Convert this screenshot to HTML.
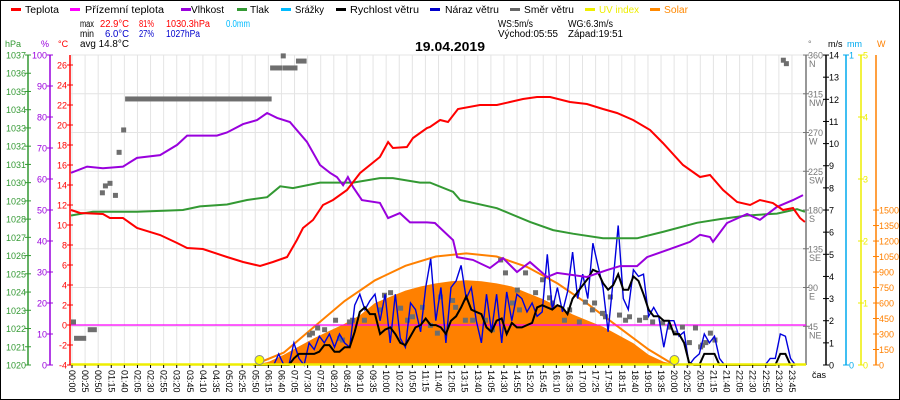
<!DOCTYPE html>
<html><head><meta charset="utf-8"><style>
html,body{margin:0;padding:0;background:#fff}
svg{display:block;font-family:"Liberation Sans","DejaVu Sans",sans-serif}
</style></head><body>
<svg id="chart" width="900" height="400" viewBox="0 0 900 400" xmlns="http://www.w3.org/2000/svg">
<rect x="0.5" y="0.5" width="899" height="399" fill="#fff" stroke="#000"/>
<g id="grid"></g>
<g id="legend" font-size="10">
  <g><rect x="11" y="8" width="10" height="3" fill="#f00"/><text x="25" y="13" textLength="34" lengthAdjust="spacingAndGlyphs">Teplota</text></g>
  <g><rect x="70" y="8" width="10" height="3" fill="#f0f"/><text x="85" y="13" textLength="79" lengthAdjust="spacingAndGlyphs">Přízemní teplota</text></g>
  <g><rect x="181" y="8" width="10" height="3" fill="#90d"/><text x="191" y="13" textLength="33" lengthAdjust="spacingAndGlyphs">Vlhkost</text></g>
  <g><rect x="237" y="8" width="10" height="3" fill="#393"/><text x="250" y="13" textLength="19" lengthAdjust="spacingAndGlyphs">Tlak</text></g>
  <g><rect x="281" y="8" width="10" height="3" fill="#0bf"/><text x="295" y="13" textLength="29" lengthAdjust="spacingAndGlyphs">Srážky</text></g>
  <g><rect x="336" y="8" width="10" height="3" fill="#000"/><text x="350" y="13" textLength="69" lengthAdjust="spacingAndGlyphs">Rychlost větru</text></g>
  <g><rect x="430" y="8" width="10" height="3" fill="#00c"/><text x="445" y="13" textLength="54" lengthAdjust="spacingAndGlyphs">Náraz větru</text></g>
  <g><rect x="510" y="8" width="10" height="3" fill="#666"/><text x="524" y="13" textLength="50" lengthAdjust="spacingAndGlyphs">Směr větru</text></g>
  <g><rect x="585" y="8" width="10" height="3" fill="#ee0"/><text x="599" y="13" fill="#ee0" textLength="40" lengthAdjust="spacingAndGlyphs">UV index</text></g>
  <g><rect x="650" y="8" width="10" height="3" fill="#f80"/><text x="664" y="13" fill="#f80" textLength="24" lengthAdjust="spacingAndGlyphs">Solar</text></g>
</g>
<g font-size="10">
  <text x="80" y="27" textLength="14" lengthAdjust="spacingAndGlyphs">max</text><text x="100" y="27" fill="#f00" textLength="29" lengthAdjust="spacingAndGlyphs">22.9°C</text><text x="139" y="27" fill="#f00" textLength="15" lengthAdjust="spacingAndGlyphs">81%</text><text x="166" y="27" fill="#f00" textLength="44" lengthAdjust="spacingAndGlyphs">1030.3hPa</text><text x="226" y="27" fill="#0bf" textLength="24" lengthAdjust="spacingAndGlyphs">0.0mm</text>
  <text x="80" y="37" textLength="14" lengthAdjust="spacingAndGlyphs">min</text><text x="105" y="37" fill="#00c" textLength="24" lengthAdjust="spacingAndGlyphs">6.0°C</text><text x="139" y="37" fill="#00c" textLength="15" lengthAdjust="spacingAndGlyphs">27%</text><text x="166" y="37" fill="#00c" textLength="34" lengthAdjust="spacingAndGlyphs">1027hPa</text>
  <text x="80" y="47" textLength="49" lengthAdjust="spacingAndGlyphs">avg 14.8°C</text>
  <text x="498" y="27" textLength="35" lengthAdjust="spacingAndGlyphs">WS:5m/s</text><text x="568" y="27" textLength="45" lengthAdjust="spacingAndGlyphs">WG:6.3m/s</text>
  <text x="498" y="37" textLength="60" lengthAdjust="spacingAndGlyphs">Východ:05:55</text><text x="568" y="37" textLength="55" lengthAdjust="spacingAndGlyphs">Západ:19:51</text>
</g>
<text x="415" y="51" font-size="13" font-weight="bold" textLength="70" lengthAdjust="spacingAndGlyphs">19.04.2019</text>
<g id="axes"></g>
<g id="series"></g>
<g id="xlabels"></g>
<text x="812" y="378" font-size="9">čas</text>
</svg>
<script>
const tempT=[0,0.30,1.05,1.28,1.71,2.17,2.93,3.49,3.82,4.34,5.13,5.66,6.22,6.64,7.11,7.43,7.63,7.96,8.29,8.62,9.08,9.51,10.16,10.43,10.59,11.05,11.25,11.71,11.81,12.14,12.4,12.73,13.45,14.01,14.44,14.87,15.33,15.76,16.41,16.97,17.5,17.96,18.49,19.05,19.47,20.13,20.69,21.02,21.45,21.91,22.34,22.66,23.09,23.42,23.75,23.98,24.14];
const tempV=[11.5,11.2,11.1,10.7,10.7,9.7,9.0,8.2,7.7,7.6,6.8,6.3,5.9,6.3,6.8,8.5,9.7,10.5,12,12.5,13.5,15.2,16.8,18.3,17.7,17.8,18.7,19.7,19.8,20.5,20.3,21.6,22,22,22.3,22.6,22.8,22.8,22.3,22.1,21.6,21.2,20.5,19.5,18.2,16,14.8,15,13.5,12.3,12,12.5,12.2,11.5,11.7,10.7,10.3];
const humT=[0,0.53,1.05,1.71,2.17,2.93,3.49,3.82,4.8,5.13,5.66,6.12,6.45,6.78,7.2,7.76,8.19,8.52,8.75,8.95,9.11,9.28,9.57,10.16,10.43,10.82,11.15,11.71,11.97,12.57,12.7,13.22,13.78,14.21,14.67,15.1,15.66,15.99,16.97,17.63,18.06,18.62,18.95,19.7,20.36,20.69,21.02,21.12,21.58,22.24,22.66,23.22,23.75,24.08];
const humV=[62,64,63.5,64,66.8,67.7,71,74,74,75,77.7,79,81.3,79.7,78.4,72,64.5,62,60.6,58,60.6,57.4,53.2,52.3,47.4,49,46,46,45.8,40.3,34.8,33.9,31.3,34.5,30,33.2,28.4,29.7,28.4,30.6,31.9,31.9,34.8,37.4,39.7,42,41.3,39.7,45.8,48.7,46.8,51,53.2,54.8];
const presT=[0,0.72,2.17,3.68,4.24,5.13,5.79,6.45,6.88,7.3,8.19,9.28,10.16,10.59,11.48,11.81,12.57,12.8,14.01,15.1,15.86,16.51,17.5,18.62,19.47,20.59,21.35,22.24,23.22,23.88,24.14];
const presV=[1028.2,1028.4,1028.4,1028.5,1028.7,1028.8,1029.05,1029.2,1029.8,1029.7,1030.0,1030.0,1030.25,1030.25,1030.0,1030.0,1029.5,1029.05,1028.6,1027.85,1027.4,1027.2,1026.95,1026.95,1027.3,1027.8,1028.0,1028.2,1028.3,1028.55,1028.4];
const windStart=6, windStep=1/6;
const speedV=[0,0,0,0,0,0,0,0,0.3,0.5,0.5,0.5,0.5,0.6,0.9,0.9,0.6,0.6,0.8,0.8,1.5,2.4,2.6,2.3,2.3,1.4,1.6,1.7,1.4,1.0,0.9,1.3,1.7,1.8,2.1,1.8,1.8,1.7,1.4,2.0,2.2,2.6,3.1,2.5,2.4,2.3,1.7,1.5,2.0,2.1,1.4,1.9,1.7,1.7,1.8,1.9,2.6,2.7,2.6,2.5,2.7,2.6,2.3,3.0,3.3,3.6,3.9,4.3,4.2,3.7,3.4,3.6,4.1,3.4,3.4,4.0,3.8,3.2,2.5,2.2,2.2,2.0,2.0,1.4,1.4,1.0,0.1,0,0,0.5,0.5,0.5,0,0,0,0,0,0,0,0,0,0,0,0,0.5,0.5,0,0];
const gustV=[0,0,0,0,0,0.5,0,0,1.0,0.3,0,1.0,0.7,1.3,1.0,1.4,0.8,1.4,1.0,0.8,2.7,3.2,2.5,2.9,3.2,2.0,3.2,1.0,3.2,1.2,0.8,2.8,2.5,1.5,3.5,4.8,2.0,3.5,1.0,3.5,3.8,4.5,3.0,3.5,2.0,1.0,3.2,1.5,3.2,1.0,3.3,2.0,3.2,3.0,2.4,2.8,2.2,2.4,5.0,2.5,3.5,2.4,3.3,5.1,3.0,4.1,3.0,5.5,4.5,3.5,1.5,3.8,6.3,3.0,2.5,4.3,4.0,4.1,2.2,2.6,2.2,0.8,2.0,2.0,1.3,1.5,0,0.3,0.5,1.4,1.0,1.3,0.3,0,0,0,0,0,0,0,0,0,0.3,0.3,1.4,1.3,0.3,0];
const solarT=[6,6.5,7,7.5,8,8.5,9,9.5,10,10.5,11,11.5,12,12.5,13,13.5,14,14.5,15,15.5,16,16.5,17,17.5,18,18.5,19,19.5,20];
const solarV=[0,30,100,180,260,330,400,480,600,660,720,760,790,810,820,810,790,760,700,640,570,490,430,370,290,210,100,30,0];
const solarMaxT=[6,7,8,9,10,11,12,13,14,15,16,17,18,19,19.85];
const solarMaxV=[0,120,370,620,820,960,1050,1080,1050,950,790,590,370,150,0];
const dirStart=[0,0.1,0.55,0.95,1.05,1.2,1.38,1.5,1.65,1.78,6.55,6.96,6.9,7.4,7.76,7.86,8.03,8.26,8.62,8.75,8.85,9.08,9.18,9.57,10.07,10.23,10.43,10.76,10.99,11.15,11.48,11.74,11.97,12.07,12.47,12.57,12.89,13.13,13.55,13.78,14.05,14.21,14.44,14.6,14.67,14.87,15.2,15.43,15.66,15.76,16.15,16.32,16.64,16.84,17.07,17.14,17.4,17.5,17.66,17.96,18.16,18.29,18.62,18.82,19.05,19.38,19.61,19.8,20.03,20.26,20.46,20.63,20.69,20.8,20.95,21.1,23.35,23.45];
const dirEnd=[0.05,0.5,0.85,1.0,1.1,1.3,1.42,1.55,1.72,6.6,6.95,7.45,7.0,7.75];
const dirV=[50,31,41,200,208,211,197,247,273,309,345,345,359,353,35,37,43,41,52,31,29,50,52,52,64,81,84,66,52,56,67,46,37,79,75,67,52,52,52,41,122,107,72,87,64,107,84,99,78,72,52,64,50,73,64,72,60,56,79,58,52,56,52,55,50,49,44,37,44,26,43,21,23,26,37,29,354,350];
const tempTicks=[-4,-2,0,2,4,6,8,10,12,14,16,18,20,22,24,26];
const humTicks=[0,10,20,30,40,50,60,70,80,90,100];
const presTicks=[1020,1021,1022,1023,1024,1025,1026,1027,1028,1029,1030,1031,1032,1033,1034,1035,1036,1037];
const dirTicks=[45,90,135,180,225,270,315,360];
const dirNames=["NE","E","SE","S","SW","W","NW","N"];
const speedTicks=[0,1,2,3,4,5,6,7,8,9,10,11,12,13,14];
const uvTicks=[0,1,2,3,4,5];
const wTicks=[0,150,300,450,600,750,900,1050,1200,1350,1500];
const timeLabels=["00:00","00:25","00:50","01:15","01:40","02:05","02:30","02:55","03:20","03:45","04:10","04:35","05:02","05:25","05:50","06:15","06:40","07:05","07:30","07:55","08:20","08:45","09:10","09:35","10:00","10:22","10:50","11:15","11:40","12:05","13:15","13:40","14:05","14:30","14:55","15:20","15:45","16:10","16:35","17:00","17:25","17:50","18:15","18:40","19:05","19:35","20:00","20:25","20:50","21:15","21:40","22:05","22:30","22:55","23:20","23:45"];
const sunT=[6.2,19.85];

const NS="http://www.w3.org/2000/svg";
const X=t=>71+30.4*t;
const yT=v=>365-(v+4)*10;
const yH=v=>365-v*3.1;
const yP=v=>55+(1037-v)*18.235;
const yV=v=>365-v*22.14;
const yD=v=>365-v*0.861;
const yW=v=>365-v*0.1033;
const yUV=v=>365-v*62;
const yMM=v=>365-v*310;
function mk(parent,tag,attrs){const e=document.createElementNS(NS,tag);for(const k in attrs)e.setAttribute(k,attrs[k]);document.getElementById(parent).appendChild(e);return e;}
function pts(ts,vs,fy){return ts.map((t,i)=>X(t).toFixed(1)+","+fy(vs[i]).toFixed(1)).join(" ");}

for(let k=0;k<=8;k++){const g=mk("grid","line",{x1:71,x2:806,y1:55+k*38.75,y2:55+k*38.75,stroke:"#e4e4e4","stroke-width":1});

}
timeLabels.forEach((lab,i)=>{const x=72+i*13.09;
const g=mk("grid","line",{x1:x,x2:x,y1:55,y2:365,stroke:"#e4e4e4","stroke-width":1});


const tk=mk("xlabels","line",{x1:x,x2:x,y1:365,y2:368,stroke:"#000"});


const t=mk("xlabels","text",{x:0,y:0,"font-size":9,transform:`translate(${x-3},370) rotate(90)`});
t.textContent=lab;

});

function axis(x,color,ticks,fy,labX,anchor,fmt,name){
const l=mk("axes","line",{x1:x,x2:x,y1:55,y2:365,stroke:color,"stroke-width":1.5});


ticks.forEach((v,i)=>{const y=fy(v);
const tk=mk("axes","line",{x1:x-3,x2:x+3,y1:y,y2:y,stroke:color});


const t=mk("axes","text",{x:labX,y:y+3.5,"font-size":9,fill:color,"text-anchor":anchor});
t.textContent=fmt(v,i);

});}
axis(28,"#339933",presTicks,yP,26,"end",v=>v,"pressure");
axis(50,"#9900dd",humTicks,yH,47,"end",v=>v,"humidity");
axis(70,"#ff0000",tempTicks,yT,67,"end",v=>v,"temperature");
axis(806,"#777777",dirTicks,yD,808,"start",v=>v,"direction");
dirTicks.forEach((v,i)=>{const t=mk("axes","text",{x:809,y:yD(v)+12,"font-size":9,fill:"#777"});
t.textContent=dirNames[i];

});
axis(826,"#000000",speedTicks,yV,829,"start",v=>v,"speed");
axis(846,"#00aaee",[0,1],yMM,849,"start",v=>v,"rain");
axis(861,"#eeee00",uvTicks,yUV,863,"start",v=>v,"uv");
axis(876,"#ff8000",wTicks,yW,879,"start",v=>v,"solar");
[["hPa",5,"#339933"],["%",41,"#9900dd"],["°C",58,"#ff0000"],["°",808,"#777"],["m/s",828,"#000"],["mm",847,"#00aaee"],["W",877,"#ff8000"]].forEach(u=>{
const t=mk("axes","text",{x:u[1],y:47,"font-size":9,fill:u[2]});
t.textContent=u[0];

});

const sa=mk("series","polygon",{points:X(solarT[0])+",365 "+pts(solarT,solarV,yW)+" "+X(solarT[solarT.length-1])+",365",fill:"#ff8000"});


const sm=mk("series","polyline",{points:pts(solarMaxT,solarMaxV,yW),fill:"none",stroke:"#ff8000","stroke-width":2});


const ap=mk("series","line",{x1:71,x2:806,y1:yT(0),y2:yT(0),stroke:"#ff00ff","stroke-width":1.2});


dirStart.forEach((s,i)=>{const e=i<dirEnd.length?dirEnd[i]:s+0.1;
const r=mk("series","rect",{x:X(s),y:yD(dirV[i])-2.5,width:Math.max(5,X(e)-X(s)),height:5,fill:"#6e6e6e"});

});
const wT=gustV.map((_,i)=>windStart+i*windStep);
const gl=mk("series","polyline",{points:pts(wT,gustV,yV),fill:"none",stroke:"#0000dd","stroke-width":1.4});


const sl=mk("series","polyline",{points:pts(wT,speedV,yV),fill:"none",stroke:"#000","stroke-width":2});


const pl=mk("series","polyline",{points:pts(presT,presV,yP),fill:"none",stroke:"#339933","stroke-width":2});


const hl=mk("series","polyline",{points:pts(humT,humV,yH),fill:"none",stroke:"#9900dd","stroke-width":2});


const tl=mk("series","polyline",{points:pts(tempT,tempV,yT),fill:"none",stroke:"#ff0000","stroke-width":2});


const uv=mk("series","line",{x1:71,x2:806,y1:364.5,y2:364.5,stroke:"#eeee00","stroke-width":2.5});


sunT.forEach(t=>{const c=mk("series","circle",{cx:X(t),cy:360,r:4.5,fill:"#ffff00",stroke:"#888","stroke-width":1});

});
</script>
</body></html>
